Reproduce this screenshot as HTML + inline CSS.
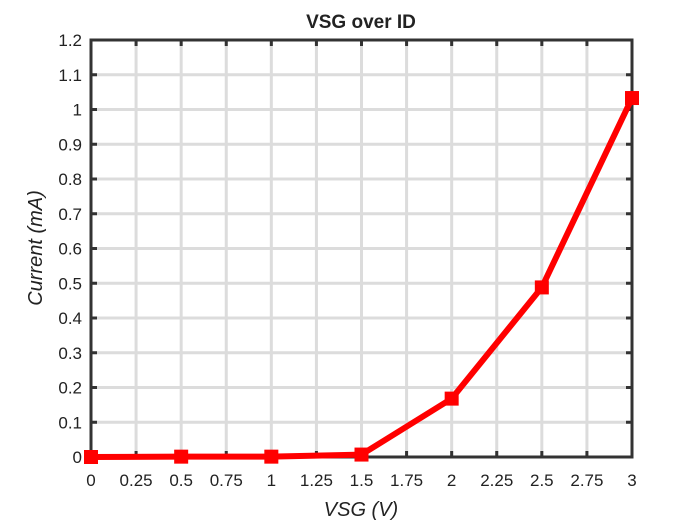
<!DOCTYPE html>
<html><head><style>body{margin:0;background:#fff}svg{display:block}text{font-family:"Liberation Sans",sans-serif;fill:#222}</style></head>
<body>
<svg width="699" height="524" viewBox="0 0 699 524" xmlns="http://www.w3.org/2000/svg">
<g stroke="#dcdcdc" stroke-width="3">
<line x1="136.08" y1="40" x2="136.08" y2="457"/><line x1="181.17" y1="40" x2="181.17" y2="457"/><line x1="226.25" y1="40" x2="226.25" y2="457"/><line x1="271.33" y1="40" x2="271.33" y2="457"/><line x1="316.42" y1="40" x2="316.42" y2="457"/><line x1="361.5" y1="40" x2="361.5" y2="457"/><line x1="406.58" y1="40" x2="406.58" y2="457"/><line x1="451.67" y1="40" x2="451.67" y2="457"/><line x1="496.75" y1="40" x2="496.75" y2="457"/><line x1="541.83" y1="40" x2="541.83" y2="457"/><line x1="586.92" y1="40" x2="586.92" y2="457"/>
<line x1="91" y1="422.25" x2="632" y2="422.25"/><line x1="91" y1="387.5" x2="632" y2="387.5"/><line x1="91" y1="352.75" x2="632" y2="352.75"/><line x1="91" y1="318" x2="632" y2="318"/><line x1="91" y1="283.25" x2="632" y2="283.25"/><line x1="91" y1="248.5" x2="632" y2="248.5"/><line x1="91" y1="213.75" x2="632" y2="213.75"/><line x1="91" y1="179" x2="632" y2="179"/><line x1="91" y1="144.25" x2="632" y2="144.25"/><line x1="91" y1="109.5" x2="632" y2="109.5"/><line x1="91" y1="74.75" x2="632" y2="74.75"/>
</g>
<g stroke="#333" stroke-width="3">
<path d="M136.08 457v-6M181.17 457v-6M226.25 457v-6M271.33 457v-6M316.42 457v-6M361.5 457v-6M406.58 457v-6M451.67 457v-6M496.75 457v-6M541.83 457v-6M586.92 457v-6"/>
<path d="M136.08 40v6M181.17 40v6M226.25 40v6M271.33 40v6M316.42 40v6M361.5 40v6M406.58 40v6M451.67 40v6M496.75 40v6M541.83 40v6M586.92 40v6"/>
<path d="M91 422.25h6M91 387.5h6M91 352.75h6M91 318h6M91 283.25h6M91 248.5h6M91 213.75h6M91 179h6M91 144.25h6M91 109.5h6M91 74.75h6"/>
<path d="M632 422.25h-6M632 387.5h-6M632 352.75h-6M632 318h-6M632 283.25h-6M632 248.5h-6M632 213.75h-6M632 179h-6M632 144.25h-6M632 109.5h-6M632 74.75h-6"/>
<rect x="91" y="40" width="541" height="417" fill="none"/>
</g>
<g font-size="17" text-anchor="middle">
<text x="91" y="486">0</text><text x="136.08" y="486">0.25</text><text x="181.17" y="486">0.5</text><text x="226.25" y="486">0.75</text><text x="271.33" y="486">1</text><text x="316.42" y="486">1.25</text><text x="361.5" y="486">1.5</text><text x="406.58" y="486">1.75</text><text x="451.67" y="486">2</text><text x="496.75" y="486">2.25</text><text x="541.83" y="486">2.5</text><text x="586.92" y="486">2.75</text><text x="632" y="486">3</text>
</g>
<g font-size="17" text-anchor="end">
<text x="82" y="463">0</text><text x="82" y="428.25">0.1</text><text x="82" y="393.5">0.2</text><text x="82" y="358.75">0.3</text><text x="82" y="324">0.4</text><text x="82" y="289.25">0.5</text><text x="82" y="254.5">0.6</text><text x="82" y="219.75">0.7</text><text x="82" y="185">0.8</text><text x="82" y="150.25">0.9</text><text x="82" y="115.5">1</text><text x="82" y="80.75">1.1</text><text x="82" y="46">1.2</text>
</g>
<polyline points="91,457 181.17,456.65 271.33,456.65 361.5,454.57 451.67,398.62 541.83,287.42 632,98.03" fill="none" stroke="#ff0000" stroke-width="6" stroke-linejoin="round"/>
<g fill="#ff0000">
<rect x="84" y="450" width="14" height="14"/><rect x="174.17" y="449.65" width="14" height="14"/><rect x="264.33" y="449.65" width="14" height="14"/><rect x="354.5" y="447.57" width="14" height="14"/><rect x="444.67" y="391.62" width="14" height="14"/><rect x="534.83" y="280.42" width="14" height="14"/><rect x="625" y="91.03" width="14" height="14"/>
</g>
<text x="361" y="28" font-size="19" font-weight="bold" text-anchor="middle">VSG over ID</text>
<text x="361" y="516" font-size="20" font-style="italic" text-anchor="middle">VSG (V)</text>
<text transform="translate(42,248) rotate(-90)" font-size="20" font-style="italic" text-anchor="middle">Current (mA)</text>
</svg>
</body></html>
